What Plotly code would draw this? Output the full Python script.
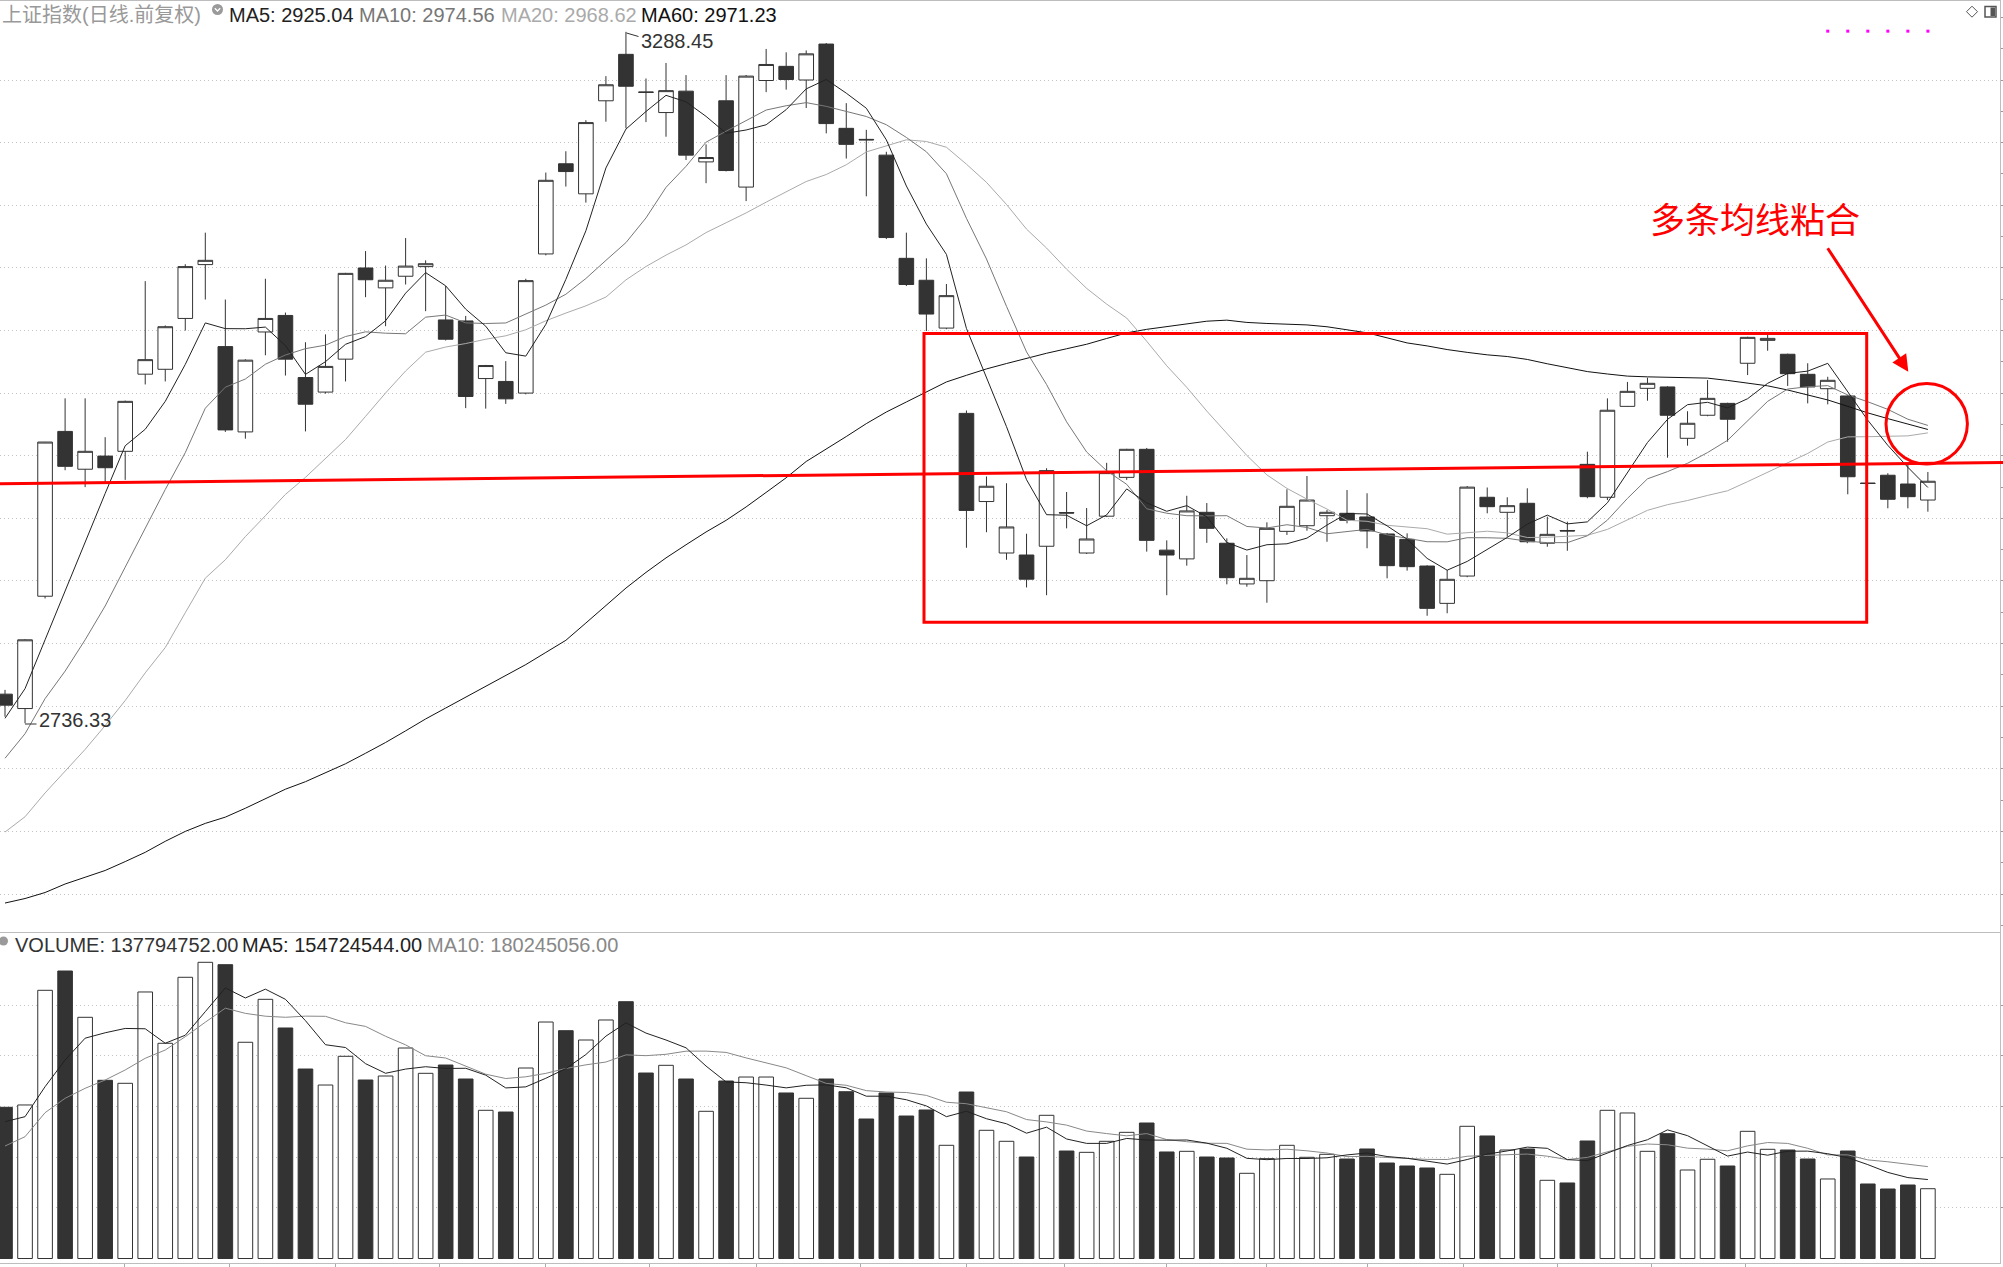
import plotly.graph_objects as go

W, H = 2003, 1267
PLOT_W = 2000

# ---------------- data ----------------
opens = [2759.6, 2748.1, 2837.8, 2969.4, 2939.2, 2949.7, 2953.5, 3015.1, 3019.0, 3059.6,
         3102.6, 3037.1, 2969.0, 3048.8, 3062.0, 3012.4, 3000.8, 3027.1, 3099.9, 3084.0,
         3093.3, 3101.0, 3058.4, 3057.6, 3011.6, 3009.3, 3000.0, 3111.1, 3183.1, 3159.1,
         3233.4, 3270.5, 3240.5, 3224.0, 3241.1, 3184.6, 3233.4, 3164.5, 3249.6, 3260.9,
         3250.0, 3278.7, 3211.4, 3202.6, 3190.0, 3107.6, 3090.1, 3051.9, 2983.8, 2913.4,
         2872.3, 2870.7, 2877.7, 2904.6, 2872.3, 2901.7, 2932.7, 2955.1, 2874.6, 2867.6,
         2904.8, 2880.1, 2847.6, 2850.2, 2889.6, 2894.1, 2902.1, 2904.0, 2901.1, 2887.5,
         2883.2, 2861.9, 2832.1, 2853.9, 2916.8, 2904.8, 2912.0, 2880.1, 2890.3, 2943.1,
         2916.8, 2989.4, 3003.8, 3004.9, 2963.9, 2982.3, 2991.8, 3023.8, 3042.1, 3031.0,
         3015.0, 3003.5, 2997.7, 2928.2, 2934.4, 2927.4, 2914.6]
highs = [2763.0, 2803.5, 2961.0, 2995.8, 2995.8, 2964.8, 2994.0, 3089.4, 3054.0, 3102.9,
         3128.1, 3074.7, 3027.0, 3091.3, 3064.3, 3040.6, 3046.9, 3096.0, 3113.4, 3101.8,
         3123.8, 3106.0, 3085.5, 3061.6, 3022.5, 3025.5, 3091.3, 3176.1, 3193.1, 3217.9,
         3253.1, 3288.45, 3251.2, 3263.6, 3253.9, 3198.6, 3253.9, 3254.0, 3274.8, 3272.1,
         3273.6, 3279.5, 3231.5, 3210.2, 3192.7, 3128.1, 3107.6, 3087.1, 2986.1, 2933.4,
         2928.0, 2887.7, 2940.0, 2921.0, 2908.2, 2944.3, 2955.5, 2956.2, 2882.4, 2918.0,
         2912.2, 2884.0, 2870.7, 2896.8, 2923.2, 2933.8, 2906.6, 2922.6, 2920.0, 2888.3,
         2888.0, 2862.5, 2858.7, 2925.8, 2924.6, 2916.8, 2924.0, 2901.3, 2897.3, 2953.2,
         2995.8, 3008.9, 3012.3, 3005.5, 2985.5, 3010.4, 2992.3, 3045.0, 3046.4, 3031.5,
         3023.8, 3013.0, 2998.5, 2928.4, 2936.0, 2942.6, 2937.0]
lows = [2741.6, 2736.33, 2836.0, 2938.4, 2924.9, 2928.8, 2930.7, 3006.9, 3009.3, 3049.9,
        3074.7, 2969.0, 2963.6, 3030.2, 3014.0, 2969.4, 2999.6, 3009.3, 3076.6, 3053.4,
        3086.7, 3065.4, 3042.0, 2988.0, 2987.6, 2991.4, 2999.0, 3110.0, 3164.9, 3152.1,
        3216.7, 3211.4, 3216.4, 3204.7, 3186.1, 3167.6, 3177.0, 3153.3, 3240.3, 3242.3,
        3227.6, 3207.4, 3187.3, 3157.1, 3123.0, 3085.5, 3049.6, 3051.0, 2876.5, 2888.9,
        2866.9, 2844.8, 2838.6, 2892.0, 2871.5, 2901.0, 2930.7, 2873.4, 2838.6, 2862.2,
        2880.4, 2847.3, 2845.4, 2832.6, 2886.7, 2890.1, 2881.3, 2896.0, 2876.1, 2852.1,
        2858.2, 2822.2, 2824.2, 2853.0, 2904.0, 2885.3, 2880.1, 2877.3, 2874.1, 2916.0,
        2914.6, 2989.0, 2993.9, 2948.4, 2958.0, 2981.5, 2961.2, 3014.4, 3033.8, 3005.7,
        2991.8, 2991.0, 2919.2, 2927.6, 2908.0, 2908.0, 2905.3]
closes = [2750.8, 2803.0, 2960.9, 2941.5, 2953.5, 2940.4, 2993.4, 3026.7, 3053.0, 3101.0,
          3106.0, 2970.6, 3026.3, 3059.6, 3027.1, 2991.1, 3021.3, 3095.6, 3090.5, 3090.1,
          3101.4, 3103.3, 3043.0, 2997.3, 3022.0, 2995.4, 3089.8, 3169.9, 3176.9, 3216.0,
          3246.2, 3245.0, 3240.1, 3241.5, 3190.0, 3188.1, 3177.7, 3253.1, 3262.4, 3250.4,
          3270.9, 3215.2, 3198.6, 3202.2, 3124.2, 3086.7, 3063.1, 3077.8, 2906.3, 2925.6,
          2893.1, 2851.4, 2938.1, 2904.2, 2883.5, 2936.5, 2955.1, 2882.4, 2870.7, 2905.9,
          2892.0, 2852.6, 2852.1, 2892.0, 2909.6, 2914.6, 2904.8, 2898.4, 2889.9, 2862.2,
          2861.4, 2828.1, 2851.3, 2924.9, 2909.3, 2910.1, 2881.3, 2887.2, 2889.9, 2917.3,
          2986.3, 3001.4, 3007.8, 2982.3, 2975.9, 2995.8, 2979.1, 3044.5, 3043.7, 3015.5,
          3004.9, 3010.2, 2933.2, 2927.8, 2915.2, 2917.3, 2929.6]
# volume in millions
volumes_m = [298.5, 303.1, 529.5, 567.6, 476.2, 351.8, 345.9, 526.2, 424.9, 555.2,
             584.8, 580.1, 426.9, 511.7, 455.1, 374.1, 342.5, 399.2, 352.4, 360.3,
             415.6, 365.6, 382.0, 354.4, 292.6, 289.2, 376.1, 466.9, 449.8, 431.4,
             470.9, 507.0, 366.2, 381.4, 354.4, 290.6, 350.4, 358.3, 358.3, 326.8,
             316.3, 354.4, 329.3, 275.4, 326.8, 281.3, 293.2, 223.5, 328.7, 253.1,
             231.4, 200.4, 282.7, 212.2, 209.6, 231.4, 249.1, 267.5, 210.3, 211.6,
             200.4, 198.4, 168.2, 197.1, 223.5, 199.8, 205.7, 196.4, 216.2, 188.5,
             182.6, 178.7, 166.2, 261.0, 241.9, 214.2, 216.2, 154.4, 149.1, 232.0,
             292.6, 287.3, 211.6, 246.4, 174.7, 195.9, 182.6, 251.1, 215.6, 214.2,
             196.4, 157.0, 212.2, 147.1, 137.2, 145.1, 137.794752]

# moving-average values before enough visible bars exist
ma5_head = [2740.3, 2764.0, 2803.0, 2842.0]
ma10_head = [2708.4, 2728.0, 2756.0, 2778.0, 2803.0, 2830.0, 2861.0, 2892.0, 2923.0]
ma20_head = [2649.5, 2661.7, 2680.7, 2697.7, 2715.5, 2734.5, 2754.5, 2776.6, 2796.8, 2824.6,
             2852.2, 2866.9, 2885.4, 2902.1, 2919.1, 2932.7, 2947.8, 2962.9, 2981.4]
ma60_head = [2592.8, 2596.4, 2601.2, 2608.0, 2613.4, 2618.8, 2625.9, 2633.3, 2642.1, 2650.0,
             2656.4, 2661.4, 2668.5, 2675.9, 2683.7, 2689.7, 2696.7, 2704.0, 2712.4, 2721.0,
             2730.3, 2739.8, 2748.5, 2757.2, 2765.3, 2774.3, 2783.2, 2792.9, 2802.6, 2816.4,
             2830.4, 2844.3, 2856.8, 2868.4, 2878.9, 2889.1, 2898.4, 2909.1, 2920.7, 2932.4,
             2945.4, 2955.1, 2965.3, 2975.6, 2984.9, 2992.9, 3000.9, 3008.9, 3014.2, 3019.3,
             3023.6, 3027.9, 3031.8, 3035.4, 3039.0, 3043.6, 3048.1, 3050.9, 3052.9]
vol_ma5_head = [270.1, 280.0, 339.2, 391.9]
vol_ma10_head = [222.1, 240.5, 287.9, 316.3, 336.0, 352.4, 372.2, 395.3, 411.6]

price_grid = [2600, 2650, 2700, 2750, 2800, 2850, 2900, 2950, 3000, 3050, 3100, 3150, 3200, 3250]
volume_grid_m = [100, 200, 300, 400, 500]
date_ticks = [5.96, 11.2, 16.5, 21.7, 27.0, 32.2, 37.5, 42.7, 48.0, 52.9, 58.0, 63.0,
              68.0, 72.8, 77.5, 82.2, 86.9]
flag_x = [91, 92, 93, 94, 95, 96]
flag_y = [3289.0, 3289.0, 3289.0, 3289.0, 3289.0, 3289.0]

title_text = "上证指数(日线.前复权)"
header_items = [("MA5: 2925.04", "#222222", 228), ("MA10: 2974.56", "#777777", 358),
                ("MA20: 2968.62", "#aaaaaa", 500), ("MA60: 2971.23", "#111111", 640)]
vol_header_items = [("VOLUME: 137794752.00", "#333333", 14), ("MA5: 154724544.00", "#222222", 241),
                    ("MA10: 180245056.00", "#888888", 426)]
high_label = "3288.45"
low_label = "2736.33"
note_text = "多条均线粘合"

# ---------------- helpers ----------------
n = len(closes)
idx = list(range(n))


def moving(vals, k, head):
    return head + [sum(vals[i - k + 1:i + 1]) / k for i in range(k - 1, len(vals))]


ma5 = moving(closes, 5, ma5_head)
ma10 = moving(closes, 10, ma10_head)
ma20 = moving(closes, 20, ma20_head)
ma60 = moving(closes, 60, ma60_head)
vol = [v * 1e6 for v in volumes_m]
vma5 = [v * 1e6 for v in moving(volumes_m, 5, vol_ma5_head)]
vma10 = [v * 1e6 for v in moving(volumes_m, 10, vol_ma10_head)]


def px(x):
    return x / PLOT_W


def py(y):
    return 1 - y / H


FONT = "Liberation Sans, Arial, Noto Sans CJK SC, sans-serif"
CJK = "Noto Sans CJK SC, sans-serif"
DARK = "#333333"
GRID = "#c4c4c4"
RED = "#ff0000"

fig = go.Figure()

fig.add_trace(go.Candlestick(
    x=idx, open=opens, high=highs, low=lows, close=closes,
    increasing=dict(fillcolor="white", line=dict(color=DARK, width=1)),
    decreasing=dict(fillcolor=DARK, line=dict(color=DARK, width=1)),
    whiskerwidth=0, xaxis="x", yaxis="y", hoverinfo="skip", showlegend=False))

for series, color in [(ma60, "#111111"), (ma20, "#aaaaaa"), (ma10, "#777777"), (ma5, "#222222")]:
    fig.add_trace(go.Scatter(x=idx, y=series, mode="lines", line=dict(color=color, width=1),
                             xaxis="x", yaxis="y", hoverinfo="skip", showlegend=False))

fig.add_trace(go.Scatter(x=flag_x, y=flag_y, mode="markers",
                         marker=dict(symbol="square", size=3, color="#ff00ff", line=dict(width=0)),
                         xaxis="x", yaxis="y", hoverinfo="skip", showlegend=False))

bar_colors = ["white" if c >= o else DARK for o, c in zip(opens, closes)]
fig.add_trace(go.Bar(x=idx, y=vol, width=0.73,
                     marker=dict(color=bar_colors, line=dict(color=DARK, width=1)),
                     xaxis="x2", yaxis="y2", hoverinfo="skip", showlegend=False))
fig.add_trace(go.Scatter(x=idx, y=vma10, mode="lines", line=dict(color="#888888", width=1),
                         xaxis="x2", yaxis="y2", hoverinfo="skip", showlegend=False))
fig.add_trace(go.Scatter(x=idx, y=vma5, mode="lines", line=dict(color="#222222", width=1),
                         xaxis="x2", yaxis="y2", hoverinfo="skip", showlegend=False))

x_range = [-0.25, PLOT_W / 20.03 - 0.25]
price_range = [3250 - (932 - 80) * 0.7985, 3250 + (80 - 1) * 0.7985]
vol_range = [-(1263.3 - 1258.5) / 0.5065 * 1e6, (1258.5 - 932.5) / 0.5065 * 1e6]

shapes = [
    # red annotations
    dict(type="rect", xref="paper", yref="paper", x0=px(924), x1=px(1866.7), y0=py(333.4), y1=py(622.2),
         line=dict(color=RED, width=3)),
    dict(type="line", xref="paper", yref="paper", x0=px(0), y0=py(483.7), x1=px(2003), y1=py(462.5),
         line=dict(color=RED, width=3)),
    dict(type="circle", xref="paper", yref="paper", x0=px(1886), x1=px(1967.4), y0=py(383.6), y1=py(464),
         line=dict(color=RED, width=3)),
    # header icons
    dict(type="circle", xref="paper", yref="paper", x0=px(212), x1=px(223), y0=py(4), y1=py(15),
         fillcolor="#9a9a9a", line=dict(width=0)),
    dict(type="path", xref="paper", yref="paper",
         path=f"M {px(214.8)} {py(8.2)} L {px(217.5)} {py(11)} L {px(220.2)} {py(8.2)}",
         line=dict(color="white", width=1.3)),
    dict(type="circle", xref="paper", yref="paper", x0=px(-1), x1=px(8), y0=py(936.5), y1=py(945.5),
         fillcolor="#9a9a9a", line=dict(width=0)),
    # extreme label connectors
    dict(type="line", xref="paper", yref="paper", x0=px(626.5), y0=py(33), x1=px(638.5), y1=py(36.5),
         line=dict(color=DARK, width=1)),
    dict(type="line", xref="paper", yref="paper", x0=px(25), y0=py(724), x1=px(36.5), y1=py(724),
         line=dict(color=DARK, width=1)),
    # top-right icons
    dict(type="path", xref="paper", yref="paper",
         path=f"M {px(1972)} {py(6.2)} L {px(1977.5)} {py(11.7)} L {px(1972)} {py(17.2)} L {px(1966.5)} {py(11.7)} Z",
         line=dict(color="#555555", width=1)),
    dict(type="rect", xref="paper", yref="paper", x0=px(1985), x1=px(1996), y0=py(6.5), y1=py(17),
         line=dict(color="#555555", width=1.5)),
    dict(type="rect", xref="paper", yref="paper", x0=px(1990.5), x1=px(1995), y0=py(7.5), y1=py(16),
         fillcolor="#555555", line=dict(width=0)),
]

annotations = [
    dict(xref="paper", yref="paper", x=px(0), y=py(14.5), xanchor="left", yanchor="middle",
         text=title_text, showarrow=False, font=dict(family=FONT, size=20, color="#999999")),
]
for txt, col, xs in header_items:
    annotations.append(dict(xref="paper", yref="paper", x=px(xs - 1), y=py(14.5), xanchor="left",
                            yanchor="middle", text=txt, showarrow=False,
                            font=dict(family=FONT, size=20, color=col)))
for txt, col, xs in vol_header_items:
    annotations.append(dict(xref="paper", yref="paper", x=px(xs - 1), y=py(945), xanchor="left",
                            yanchor="middle", text=txt, showarrow=False,
                            font=dict(family=FONT, size=20, color=col)))
annotations += [
    dict(xref="paper", yref="paper", x=px(639), y=py(41.5), xanchor="left", yanchor="middle",
         text=high_label, showarrow=False, font=dict(family=FONT, size=20, color=DARK)),
    dict(xref="paper", yref="paper", x=px(36.7), y=py(719.5), xanchor="left", yanchor="middle",
         text=low_label, showarrow=False, font=dict(family=FONT, size=20, color=DARK)),
    dict(xref="paper", yref="paper", x=px(1754.5), y=py(217.5), xanchor="center", yanchor="middle",
         text=note_text, showarrow=False, font=dict(family=CJK, size=35, color=RED)),
    dict(xref="paper", yref="paper", x=px(1908.3), y=py(371.7), ax=-81.6, ay=-125, text="",
         showarrow=True, arrowhead=2, arrowsize=1.1, arrowwidth=3, arrowcolor=RED, standoff=0),
]

fig.update_layout(
    width=W, height=H, margin=dict(l=0, r=3, t=0, b=0),
    paper_bgcolor="white", plot_bgcolor="white", showlegend=False,
    boxgap=0.27, boxgroupgap=0, bargap=0.27,
    xaxis=dict(domain=[0, 1], range=x_range, anchor="y", showgrid=False, zeroline=False,
               showticklabels=False, ticks="", showline=True, linecolor="#bdbdbd", mirror=True,
               rangeslider=dict(visible=False), fixedrange=True),
    yaxis=dict(domain=[py(932), py(1)], range=price_range, anchor="x", side="right",
               tickvals=price_grid, showticklabels=False, ticks="outside", ticklen=3, tickcolor="#999999",
               showgrid=True, gridcolor=GRID, griddash="1px,3px", gridwidth=1, zeroline=False,
               showline=True, linecolor="#bdbdbd",
               minor=dict(dtick=25, ticks="outside", ticklen=3, tickcolor="#999999", showgrid=False),
               fixedrange=True),
    xaxis2=dict(domain=[0, 1], range=x_range, anchor="y2", matches="x", showgrid=False, zeroline=False,
                showticklabels=False, tickvals=date_ticks, ticks="outside", ticklen=4, tickcolor="#aaaaaa",
                showline=True, linecolor="#bdbdbd", fixedrange=True),
    yaxis2=dict(domain=[py(1263.3), py(932.5)], range=vol_range, anchor="x2", side="right",
                tickvals=[v * 1e6 for v in volume_grid_m], showticklabels=False, ticks="outside",
                ticklen=3, tickcolor="#999999", showgrid=True, gridcolor=GRID, griddash="1px,3px",
                zeroline=False, showline=True, linecolor="#bdbdbd", fixedrange=True),
    shapes=shapes, annotations=annotations,
)

fig.write_html("out.html", config={"displayModeBar": False})
